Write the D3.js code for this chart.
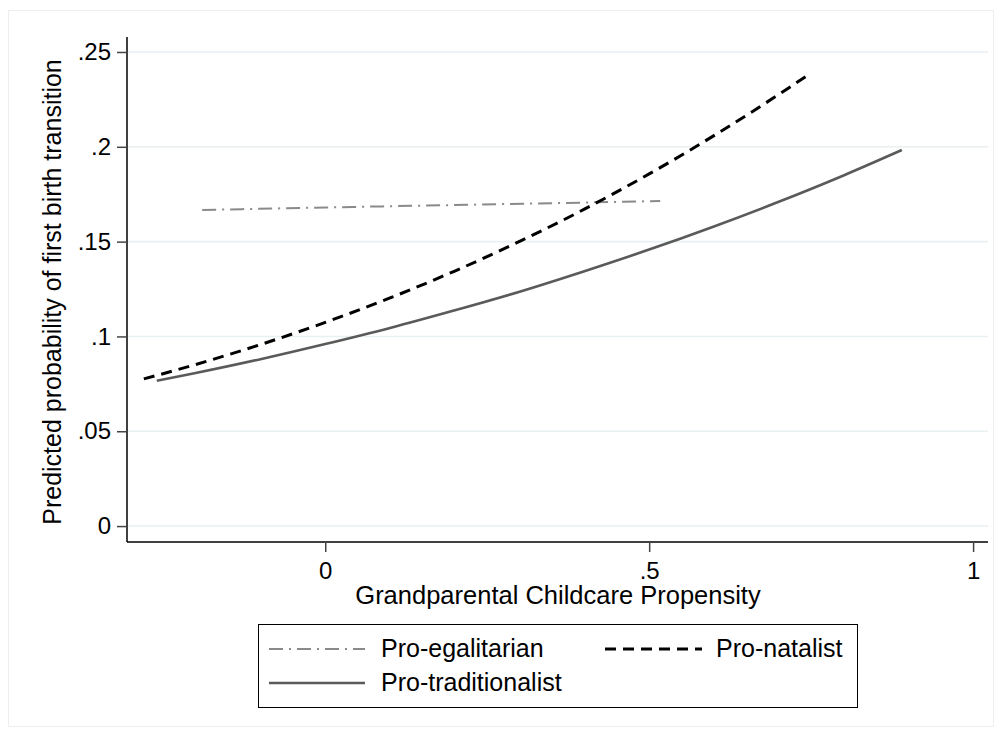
<!DOCTYPE html>
<html lang="en">
  <head>
    <meta charset="UTF-8">
    <title>Predicted probability of first birth transition</title>
    <style>
      body { margin: 0; background: #fff; }
      text { font-family: "Liberation Sans", Arial, Helvetica, sans-serif; fill: #000; }
      .grid line { stroke: #e9f0f2; stroke-width: 1.6px; }
      .series { fill: none; }
    </style>
  </head>
  <body>
    <script src="https://d3js.org/d3.v7.min.js"></script>
    <script>
      // values
      const natalistX = [-0.28, -0.2, -0.1, 0, 0.1, 0.2, 0.3, 0.4, 0.5, 0.6, 0.7, 0.75];
      const natalistY = [0.0776, 0.0852, 0.0957, 0.1074, 0.1203, 0.1345, 0.1501, 0.1671, 0.1857, 0.2059, 0.2276, 0.2390];

      const tradX = [-0.26, -0.2, -0.1, 0, 0.1, 0.2, 0.3, 0.4, 0.5, 0.6, 0.7, 0.8, 0.89];
      const tradY = [0.0766, 0.0807, 0.0880, 0.0960, 0.1045, 0.1138, 0.1236, 0.1344, 0.1458, 0.1580, 0.1710, 0.1849, 0.1983];

      const egalX = [-0.19, 0, 0.2, 0.4, 0.517];
      const egalY = [0.1667, 0.1680, 0.1693, 0.1706, 0.1714];

      const yTicks = [0, 0.05, 0.1, 0.15, 0.2, 0.25];
      const yTickLabels = ["0", ".05", ".1", ".15", ".2", ".25"];
      const xTicks = [0, 0.5, 1];
      const xTickLabels = ["0", ".5", "1"];

      const series = [
        { name: "Pro-egalitarian", xs: egalX, ys: egalY, color: "#8a8a8a", width: 2, dash: "14,6,2,6" },
        { name: "Pro-natalist", xs: natalistX, ys: natalistY, color: "#000", width: 3, dash: "11,7" },
        { name: "Pro-traditionalist", xs: tradX, ys: tradY, color: "#5a5a5a", width: 2.6, dash: null }
      ];

      const W = 1002, H = 736;
      const plotL = 127, plotR = 988, plotT = 37, plotB = 542;

      const x = d3.scaleLinear().domain([-0.306, 1.023]).range([plotL, plotR]);
      const y = d3.scaleLinear().domain([-0.0084, 0.2579]).range([plotB, plotT]);

      const svg = d3.select("body").append("svg")
        .attr("width", W)
        .attr("height", H);

      svg.append("rect")
        .attr("x", 8.5).attr("y", 10.5)
        .attr("width", 985).attr("height", 716)
        .attr("fill", "#fff")
        .attr("stroke", "#eeeeee");

      // gridlines
      svg.append("g").attr("class", "grid")
        .selectAll("line")
        .data(yTicks)
        .enter().append("line")
        .attr("x1", plotL + 1).attr("x2", plotR)
        .attr("y1", d => y(d)).attr("y2", d => y(d));

      // axes
      const yAxis = d3.axisLeft(y).tickValues(yTicks)
        .tickFormat((d, i) => yTickLabels[i]).tickSize(10).tickPadding(6);
      const gy = svg.append("g").attr("transform", `translate(${plotL},0)`).call(yAxis);
      gy.select(".domain").attr("d", `M0,${plotT}V${plotB}`).attr("stroke", "#000").attr("stroke-width", 1.5);
      gy.selectAll(".tick line").attr("stroke", "#444").attr("stroke-width", 1.5);
      gy.selectAll(".tick text").style("font-size", "24px").attr("fill", "#000");

      const xAxis = d3.axisBottom(x).tickValues(xTicks)
        .tickFormat((d, i) => xTickLabels[i]).tickSize(10).tickPadding(10);
      const gx = svg.append("g").attr("transform", `translate(0,${plotB})`).call(xAxis);
      gx.select(".domain").attr("d", `M${plotL},0H${plotR}`).attr("stroke", "#000").attr("stroke-width", 1.5);
      gx.selectAll(".tick line").attr("stroke", "#444").attr("stroke-width", 1.5);
      gx.selectAll(".tick text").style("font-size", "24px").attr("fill", "#000");

      // axis titles
      svg.append("text")
        .attr("x", 558)
        .attr("y", 604)
        .attr("text-anchor", "middle")
        .style("font-size", "25.5px")
        .text("Grandparental Childcare Propensity");

      svg.append("text")
        .attr("transform", `translate(61,292) rotate(-90)`)
        .attr("text-anchor", "middle")
        .style("font-size", "25px")
        .text("Predicted probability of first birth transition");

      // lines
      const line = d3.line()
        .x(d => x(d[0]))
        .y(d => y(d[1]))
        .curve(d3.curveMonotoneX);

      svg.selectAll("path.series")
        .data(series)
        .enter().append("path")
        .attr("class", "series")
        .attr("d", s => line(s.xs.map((v, i) => [v, s.ys[i]])))
        .attr("stroke", s => s.color)
        .attr("stroke-width", s => s.width)
        .attr("stroke-dasharray", s => s.dash);

      // legend
      const lg = svg.append("g");
      lg.append("rect")
        .attr("x", 258.5).attr("y", 624.5)
        .attr("width", 599).attr("height", 83)
        .attr("fill", "#fff").attr("stroke", "#000").attr("stroke-width", 1);

      const legendPos = [
        { sx: 269, ex: 365, tx: 381, y: 649, base: 657 },
        { sx: 605, ex: 702, tx: 716, y: 649, base: 657 },
        { sx: 269, ex: 365, tx: 381, y: 683, base: 691 }
      ];

      series.forEach((s, i) => {
        const p = legendPos[i];
        lg.append("line")
          .attr("x1", p.sx).attr("x2", p.ex)
          .attr("y1", p.y).attr("y2", p.y)
          .attr("stroke", s.color)
          .attr("stroke-width", s.width)
          .attr("stroke-dasharray", s.dash);
        lg.append("text")
          .attr("x", p.tx).attr("y", p.base)
          .style("font-size", "25px")
          .text(s.name);
      });
    </script>
  </body>
</html>
